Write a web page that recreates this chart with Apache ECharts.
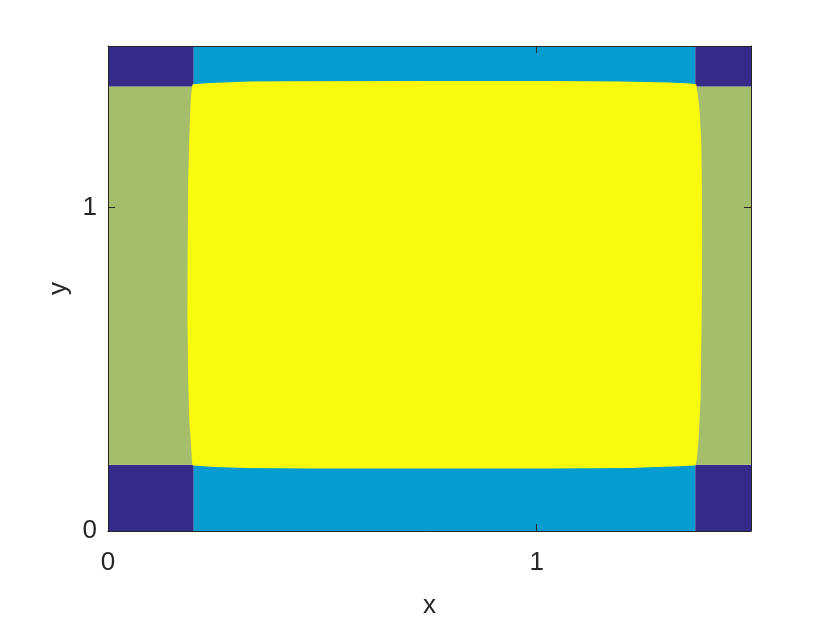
<!DOCTYPE html>
<html>
<head>
<meta charset="utf-8">
<script src="https://cdn.jsdelivr.net/npm/echarts@6/dist/echarts.min.js"></script>
<style>
  html, body { margin: 0; padding: 0; background: #fff; }
  #chart { width: 830px; height: 623px; }
</style>
</head>
<body>
<div id="chart"></div>
<script>
// region edges
const xEdges = [0, 0.2, 1.37, 1.5];
const yEdges = [0, 0.205, 1.375, 1.5];
// class of each cell, row 0 = bottom
const cellClass = [
  [0, 1, 0],
  [2, 3, 2],
  [0, 1, 0]
];
const classColors = ['#352A87', '#079CCF', '#A5BE6B', '#F9FB0E'];

// yellow blob outline (counter-clockwise from top-left)
const yellowX = [0.198, 0.238, 0.331, 0.424, 0.774, 1.030, 1.193, 1.310, 1.357, 1.3722,
  1.376, 1.380, 1.3839, 1.3853, 1.3862, 1.3853, 1.3839, 1.3823, 1.3776, 1.3737, 1.3706,
  1.3333, 1.2168, 1.0303, 0.6807, 0.4709, 0.3193, 0.2494, 0.1981,
  0.1965, 0.1951, 0.1928, 0.1895, 0.1872, 0.1853, 0.1858, 0.1872, 0.1895, 0.1911, 0.1928, 0.1965];
const yellowY = [1.3816, 1.3856, 1.390, 1.3912, 1.3918, 1.3918, 1.390, 1.3868, 1.3838, 1.3816,
  1.3477, 1.3013, 1.2087, 1.0852, 0.900, 0.7147, 0.5604, 0.406, 0.2825, 0.2208, 0.2022,
  0.2001, 0.1951, 0.193, 0.193, 0.193, 0.1951, 0.1982, 0.2022,
  0.2053, 0.2362, 0.2825, 0.3442, 0.4677, 0.653, 0.869, 1.0852, 1.2087, 1.2705, 1.3322, 1.3785];

const xTicks = [0, 1];
const yTicks = [0, 1];

const cells = [];
for (let r = 0; r < 3; r++) {
  for (let c = 0; c < 3; c++) {
    cells.push([xEdges[c], xEdges[c + 1], yEdges[r], yEdges[r + 1], cellClass[r][c]]);
  }
}

const chart = echarts.init(document.getElementById('chart'));
const font = 'Liberation Sans, Arial, sans-serif';
const lineColor = '#262626';

const baseAxis = {
  type: 'value',
  min: 0,
  max: 1.5,
  z: 10,
  splitLine: { show: false },
  axisLine: { show: true, onZero: false, lineStyle: { color: lineColor, width: 1 } },
  axisTick: { show: true, inside: true, length: 7, customValues: xTicks, lineStyle: { color: lineColor } }
};

chart.setOption({
  animation: false,
  grid: { left: 108, right: 79, top: 46, bottom: 92, containLabel: false, outerBoundsMode: 'none' },
  xAxis: [
    Object.assign({}, baseAxis, {
      position: 'bottom',
      name: 'x',
      nameLocation: 'middle',
      nameGap: 62,
      nameTextStyle: { fontFamily: font, fontSize: 26, color: lineColor },
      axisLabel: { customValues: xTicks, margin: 19, fontFamily: font, fontSize: 26, color: lineColor }
    }),
    Object.assign({}, baseAxis, {
      position: 'top',
      axisLabel: { show: false }
    })
  ],
  yAxis: [
    Object.assign({}, baseAxis, {
      position: 'left',
      axisTick: Object.assign({}, baseAxis.axisTick, { customValues: yTicks }),
      name: 'y',
      nameLocation: 'middle',
      nameGap: 34,
      nameTextStyle: { fontFamily: font, fontSize: 26, color: lineColor },
      axisLabel: { customValues: yTicks, margin: 11, fontFamily: font, fontSize: 26, color: lineColor }
    }),
    Object.assign({}, baseAxis, {
      position: 'right',
      axisTick: Object.assign({}, baseAxis.axisTick, { customValues: yTicks }),
      axisLabel: { show: false }
    })
  ],
  series: [
    {
      type: 'custom',
      clip: true,
      silent: true,
      z: 1,
      data: cells,
      encode: { x: [0, 1], y: [2, 3] },
      renderItem: function (params, api) {
        const p0 = api.coord([api.value(0), api.value(3)]);
        const p1 = api.coord([api.value(1), api.value(2)]);
        return {
          type: 'rect',
          shape: { x: p0[0], y: p0[1], width: p1[0] - p0[0], height: p1[1] - p0[1] },
          style: { fill: classColors[api.value(4)] }
        };
      }
    },
    {
      type: 'custom',
      clip: true,
      silent: true,
      z: 2,
      data: [[0]],
      renderItem: function (params, api) {
        const pts = yellowX.map((x, i) => api.coord([x, yellowY[i]]));
        return {
          type: 'polygon',
          shape: { points: pts },
          style: { fill: classColors[3] }
        };
      }
    }
  ]
});
</script>
</body>
</html>
